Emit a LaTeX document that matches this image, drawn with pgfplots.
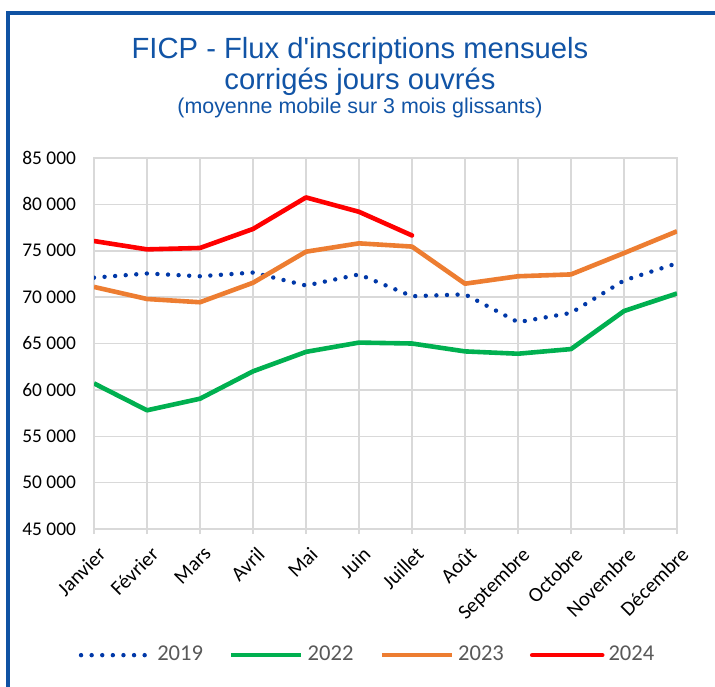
\documentclass[border=0pt]{standalone}
\usepackage{fontspec}
\setmainfont{Liberation Sans}
\newfontfamily\titlefont{Liberation Sans}[Ligatures=TeXOff]
\newfontfamily\carlito{Carlito}
\usepackage{pgfplots}
\pgfplotsset{compat=1.18}
\definecolor{frameblue}{RGB}{15,82,163}
\definecolor{titleblue}{RGB}{17,84,166}
\definecolor{gridgray}{RGB}{217,217,217}
\definecolor{c2019}{RGB}{0,56,168}
\definecolor{c2022}{RGB}{0,176,80}
\definecolor{c2023}{RGB}{237,125,49}
\definecolor{c2024}{RGB}{255,0,0}
\definecolor{leggray}{RGB}{89,89,89}

\begin{document}
\begin{tikzpicture}
\path[use as bounding box] (0,0) rectangle (357.5pt,-343pt);
\fill[white] (0,0) rectangle (357.5pt,-343pt);
\draw[frameblue, line width=2pt] (3.75pt,-350pt) -- (3.75pt,-6.5pt) -- (365pt,-6.5pt);
\node[anchor=base, text=titleblue, font=\titlefont\fontsize{14.6}{17}\selectfont, inner sep=0pt] at (180pt,-29pt) {FICP - Flux d'inscriptions mensuels};
\node[anchor=base, text=titleblue, font=\titlefont\fontsize{14.6}{17}\selectfont, inner sep=0pt] at (180pt,-44.5pt) {corrigés jours ouvrés};
\node[anchor=base, text=titleblue, font=\titlefont\fontsize{10.7}{13}\selectfont, inner sep=0pt] at (180pt,-56.5pt) {(moyenne mobile sur 3 mois glissants)};
\begin{axis}[
  at={(47pt,-264.5pt)}, anchor=south west,
  scale only axis, width=291.5pt, height=185.5pt,
  xmin=0, xmax=11, ymin=45000, ymax=85000,
  xtick={0,...,11},
  xticklabels={Janvier,Février,Mars,Avril,Mai,Juin,Juillet,Août,Septembre,Octobre,Novembre,Décembre},
  ytick={45000,50000,...,85000},
  scaled y ticks=false,
  /pgf/number format/.cd, assume math mode=true, 1000 sep={\ }, /pgfplots/.cd,
  grid=major,
  major grid style={gridgray, line width=0.75pt},
  axis line style={gridgray, line width=0.75pt},
  x tick style={gridgray, line width=0.75pt},
  xtick pos=bottom, tick align=outside, major tick length=2.5pt,
  ytick style={draw=none},
  xticklabel style={rotate=45, anchor=north east, font=\carlito\fontsize{10.3}{12}\selectfont, inner sep=1pt, xshift=-2pt, yshift=-4pt},
  yticklabel style={font=\carlito\fontsize{9.7}{11}\selectfont, xshift=-3pt},
  legend columns=4,
  legend style={draw=none, fill=none, at={(0.471,-0.34)}, anchor=center,
    font=\carlito\fontsize{11.3}{13}\selectfont, text=leggray,
    /tikz/every even column/.append style={column sep=11pt}},
  legend image code/.code={\draw[#1] (0pt,0pt) -- (35pt,0pt);},
  every axis plot/.append style={line join=round},
]
\addplot[c2019, line width=2.2pt, dash pattern=on 0pt off 5.3pt, line cap=round] coordinates {
(0,72100) (1,72550) (2,72250) (3,72650) (4,71250) (5,72450) (6,70100) (7,70300) (8,67300) (9,68300) (10,71800) (11,73650)};
\addlegendentry{2019}
\addplot[c2022, line width=2.3pt] coordinates {
(0,60700) (1,57800) (2,59050) (3,62000) (4,64100) (5,65100) (6,65000) (7,64150) (8,63900) (9,64400) (10,68500) (11,70400)};
\addlegendentry{2022}
\addplot[c2023, line width=2.3pt] coordinates {
(0,71100) (1,69800) (2,69450) (3,71550) (4,74900) (5,75800) (6,75450) (7,71450) (8,72250) (9,72450) (10,74750) (11,77100)};
\addlegendentry{2023}
\addplot[c2024, line width=2.3pt, line cap=round] coordinates {
(0,76050) (1,75150) (2,75300) (3,77350) (4,80750) (5,79200) (6,76650)};
\addlegendentry{2024}
\end{axis}
\end{tikzpicture}
\end{document}
